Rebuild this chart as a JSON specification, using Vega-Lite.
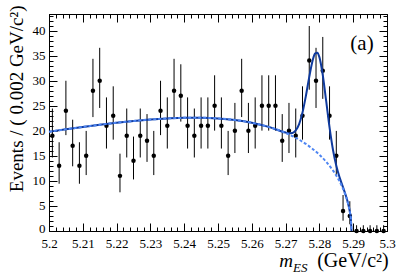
{
  "$schema": "https://vega.github.io/schema/vega-lite/v6.json",
  "width": 338,
  "height": 217,
  "autosize": {"type": "none"},
  "padding": {"left": 49, "top": 14, "right": 20, "bottom": 45},
  "background": "white",
  "config": {
    "view": {"stroke": "black", "strokeWidth": 1},
    "axis": {
      "grid": false,
      "labelFont": "Liberation Serif",
      "labelFontSize": 13,
      "labelColor": "black",
      "titleFont": "Liberation Serif",
      "titleFontSize": 19,
      "titleFontWeight": "normal",
      "titleColor": "black",
      "tickColor": "black",
      "domainColor": "black",
      "labelFlush": false,
      "labelOverlap": false
    },
    "text": {"font": "Liberation Serif", "color": "black"}
  },
  "datasets": {
    "hist": [
      {"m": 5.201, "n": 19, "lo": 14.67, "hi": 24.44},
      {"m": 5.203, "n": 13, "lo": 9.43, "hi": 17.71},
      {"m": 5.205, "n": 24, "lo": 19.13, "hi": 29.98},
      {"m": 5.207, "n": 17, "lo": 12.91, "hi": 22.21},
      {"m": 5.209, "n": 13, "lo": 9.43, "hi": 17.71},
      {"m": 5.211, "n": 15, "lo": 11.16, "hi": 19.97},
      {"m": 5.213, "n": 28, "lo": 22.73, "hi": 34.36},
      {"m": 5.215, "n": 30, "lo": 24.55, "hi": 36.55},
      {"m": 5.217, "n": 21, "lo": 16.45, "hi": 26.66},
      {"m": 5.219, "n": 23, "lo": 18.23, "hi": 28.87},
      {"m": 5.221, "n": 11, "lo": 7.72, "hi": 15.43},
      {"m": 5.223, "n": 19, "lo": 14.67, "hi": 24.44},
      {"m": 5.225, "n": 14, "lo": 10.29, "hi": 18.84},
      {"m": 5.227, "n": 19, "lo": 14.67, "hi": 24.44},
      {"m": 5.229, "n": 18, "lo": 13.79, "hi": 23.33},
      {"m": 5.231, "n": 15, "lo": 11.16, "hi": 19.97},
      {"m": 5.233, "n": 24, "lo": 19.13, "hi": 29.98},
      {"m": 5.235, "n": 21, "lo": 16.45, "hi": 26.66},
      {"m": 5.237, "n": 28, "lo": 22.73, "hi": 34.36},
      {"m": 5.239, "n": 27, "lo": 21.83, "hi": 33.27},
      {"m": 5.241, "n": 21, "lo": 16.45, "hi": 26.66},
      {"m": 5.243, "n": 19, "lo": 14.67, "hi": 24.44},
      {"m": 5.245, "n": 21, "lo": 16.45, "hi": 26.66},
      {"m": 5.247, "n": 21, "lo": 16.45, "hi": 26.66},
      {"m": 5.249, "n": 25, "lo": 20.03, "hi": 31.07},
      {"m": 5.251, "n": 21, "lo": 16.45, "hi": 26.66},
      {"m": 5.253, "n": 15, "lo": 11.16, "hi": 19.97},
      {"m": 5.255, "n": 20, "lo": 15.56, "hi": 25.56},
      {"m": 5.257, "n": 28, "lo": 22.73, "hi": 34.36},
      {"m": 5.259, "n": 20, "lo": 15.56, "hi": 25.56},
      {"m": 5.261, "n": 21, "lo": 16.45, "hi": 26.66},
      {"m": 5.263, "n": 25, "lo": 20.03, "hi": 31.07},
      {"m": 5.265, "n": 25, "lo": 20.03, "hi": 31.07},
      {"m": 5.267, "n": 25, "lo": 20.03, "hi": 31.07},
      {"m": 5.269, "n": 18, "lo": 13.79, "hi": 23.33},
      {"m": 5.271, "n": 20, "lo": 15.56, "hi": 25.56},
      {"m": 5.273, "n": 19, "lo": 14.67, "hi": 24.44},
      {"m": 5.275, "n": 23, "lo": 18.23, "hi": 28.87},
      {"m": 5.277, "n": 34, "lo": 28.19, "hi": 40.9},
      {"m": 5.279, "n": 30, "lo": 24.55, "hi": 36.55},
      {"m": 5.281, "n": 32, "lo": 26.37, "hi": 38.72},
      {"m": 5.283, "n": 23, "lo": 18.23, "hi": 28.87},
      {"m": 5.285, "n": 15, "lo": 11.16, "hi": 19.97},
      {"m": 5.287, "n": 4, "lo": 2.06, "hi": 7.18},
      {"m": 5.289, "n": 3, "lo": 1.34, "hi": 5.94},
      {"m": 5.291, "n": 0, "lo": 0, "hi": 1.15},
      {"m": 5.293, "n": 0, "lo": 0, "hi": 1.15},
      {"m": 5.295, "n": 0, "lo": 0, "hi": 1.15},
      {"m": 5.297, "n": 0, "lo": 0, "hi": 1.15},
      {"m": 5.299, "n": 0, "lo": 0, "hi": 1.15}
    ],
    "bg": [
      {"m": 5.2, "v": 19.8}, {"m": 5.205, "v": 20.29}, {"m": 5.21, "v": 20.76},
      {"m": 5.215, "v": 21.2}, {"m": 5.22, "v": 21.6}, {"m": 5.225, "v": 21.95},
      {"m": 5.23, "v": 22.24}, {"m": 5.235, "v": 22.45}, {"m": 5.24, "v": 22.58},
      {"m": 5.245, "v": 22.59}, {"m": 5.25, "v": 22.46}, {"m": 5.255, "v": 22.15},
      {"m": 5.26, "v": 21.61}, {"m": 5.265, "v": 20.78}, {"m": 5.27, "v": 19.57},
      {"m": 5.272, "v": 18.94}, {"m": 5.274, "v": 18.22}, {"m": 5.276, "v": 17.37},
      {"m": 5.278, "v": 16.38}, {"m": 5.28, "v": 15.22}, {"m": 5.282, "v": 13.82},
      {"m": 5.284, "v": 12.09}, {"m": 5.286, "v": 9.85}, {"m": 5.287, "v": 8.43},
      {"m": 5.288, "v": 6.6}, {"m": 5.2885, "v": 5.42}, {"m": 5.289, "v": 3.86},
      {"m": 5.2893, "v": 2.44}, {"m": 5.2895, "v": 0}
    ],
    "tot": [
      {"m": 5.2, "v": 19.8}, {"m": 5.205, "v": 20.29}, {"m": 5.21, "v": 20.76},
      {"m": 5.215, "v": 21.2}, {"m": 5.22, "v": 21.6}, {"m": 5.225, "v": 21.95},
      {"m": 5.23, "v": 22.24}, {"m": 5.235, "v": 22.45}, {"m": 5.24, "v": 22.58},
      {"m": 5.245, "v": 22.59}, {"m": 5.25, "v": 22.46}, {"m": 5.255, "v": 22.15},
      {"m": 5.26, "v": 21.61}, {"m": 5.265, "v": 20.78}, {"m": 5.27, "v": 19.64},
      {"m": 5.271, "v": 19.49}, {"m": 5.272, "v": 19.55}, {"m": 5.273, "v": 20.06},
      {"m": 5.274, "v": 21.33}, {"m": 5.275, "v": 23.63}, {"m": 5.276, "v": 26.94},
      {"m": 5.277, "v": 30.75}, {"m": 5.278, "v": 34.03}, {"m": 5.2787, "v": 35.4},
      {"m": 5.2794, "v": 35.58}, {"m": 5.28, "v": 34.69}, {"m": 5.281, "v": 31.1},
      {"m": 5.282, "v": 25.95}, {"m": 5.283, "v": 20.67}, {"m": 5.284, "v": 16.27},
      {"m": 5.285, "v": 13.02}, {"m": 5.286, "v": 10.65}, {"m": 5.287, "v": 8.71},
      {"m": 5.288, "v": 6.67}, {"m": 5.2885, "v": 5.45}, {"m": 5.289, "v": 3.88},
      {"m": 5.2893, "v": 2.45}, {"m": 5.2895, "v": 0}
    ]
  },
  "layer": [
    {
      "data": {"name": "hist"},
      "mark": {"type": "rule", "color": "black", "strokeWidth": 1},
      "encoding": {
        "x": {
          "field": "m", "type": "quantitative",
          "scale": {"domain": [5.2, 5.3], "nice": false, "zero": false},
          "axis": {
            "orient": "bottom", "title": null,
            "labelFont": "Liberation Serif", "labelFontSize": 13,
            "values": [5.2, 5.202, 5.204, 5.206, 5.208, 5.21, 5.212, 5.214, 5.216, 5.218, 5.22, 5.222, 5.224, 5.226, 5.228, 5.23, 5.232, 5.234, 5.236, 5.238, 5.24, 5.242, 5.244, 5.246, 5.248, 5.25, 5.252, 5.254, 5.256, 5.258, 5.26, 5.262, 5.264, 5.266, 5.268, 5.27, 5.272, 5.274, 5.276, 5.278, 5.28, 5.282, 5.284, 5.286, 5.288, 5.29, 5.292, 5.294, 5.296, 5.298, 5.3],
            "labelExpr": "abs(datum.value*100 - round(datum.value*100)) < 0.01 ? format(datum.value, '.3~f') : ''",
            "tickSize": {"condition": {"test": "abs(datum.value*100 - round(datum.value*100)) < 0.01", "value": -8}, "value": -4},
            "labelPadding": 14
          }
        },
        "y": {
          "field": "lo", "type": "quantitative",
          "scale": {"domain": [0, 43.3], "nice": false, "zero": false},
          "axis": {
            "orient": "left",
            "labelFont": "Liberation Serif", "labelFontSize": 13,
            "title": "Events / ( 0.002 GeV/c²)",
            "titleAnchor": "end", "titleAlign": "right", "titleAngle": 270,
            "titleBaseline": "alphabetic", "titleX": -27, "titleY": -9,
            "values": [0,1,2,3,4,5,6,7,8,9,10,11,12,13,14,15,16,17,18,19,20,21,22,23,24,25,26,27,28,29,30,31,32,33,34,35,36,37,38,39,40,41,42,43],
            "labelExpr": "datum.value % 5 == 0 ? datum.label : ''",
            "labelOffset": {"condition": {"test": "datum.value == 0", "value": -3}, "value": 0},
            "tickSize": {"condition": {"test": "datum.value % 5 == 0", "value": -8}, "value": -4},
            "labelPadding": 12
          }
        },
        "y2": {"field": "hi"}
      }
    },
    {
      "data": {"name": "hist"},
      "mark": {"type": "circle", "color": "black", "size": 20, "opacity": 1},
      "encoding": {
        "x": {
          "field": "m", "type": "quantitative",
          "scale": {"domain": [5.2, 5.3], "nice": false, "zero": false},
          "axis": {
            "orient": "top", "title": null, "labels": false,
            "values": [5.2, 5.202, 5.204, 5.206, 5.208, 5.21, 5.212, 5.214, 5.216, 5.218, 5.22, 5.222, 5.224, 5.226, 5.228, 5.23, 5.232, 5.234, 5.236, 5.238, 5.24, 5.242, 5.244, 5.246, 5.248, 5.25, 5.252, 5.254, 5.256, 5.258, 5.26, 5.262, 5.264, 5.266, 5.268, 5.27, 5.272, 5.274, 5.276, 5.278, 5.28, 5.282, 5.284, 5.286, 5.288, 5.29, 5.292, 5.294, 5.296, 5.298, 5.3],
            "tickSize": {"condition": {"test": "abs(datum.value*100 - round(datum.value*100)) < 0.01", "value": -8}, "value": -4}
          }
        },
        "y": {
          "field": "n", "type": "quantitative",
          "scale": {"domain": [0, 43.3], "nice": false, "zero": false},
          "axis": {
            "orient": "right", "title": null, "labels": false,
            "values": [0,1,2,3,4,5,6,7,8,9,10,11,12,13,14,15,16,17,18,19,20,21,22,23,24,25,26,27,28,29,30,31,32,33,34,35,36,37,38,39,40,41,42,43],
            "tickSize": {"condition": {"test": "datum.value % 5 == 0", "value": -8}, "value": -4}
          }
        }
      }
    },
    {
      "data": {"name": "tot"},
      "mark": {"type": "line", "color": "#0f3a9e", "strokeWidth": 2, "interpolate": "monotone"},
      "encoding": {
        "x": {"field": "m", "type": "quantitative", "scale": {"domain": [5.2, 5.3], "nice": false, "zero": false}, "axis": null},
        "y": {"field": "v", "type": "quantitative", "scale": {"domain": [0, 43.3], "nice": false, "zero": false}, "axis": null}
      }
    },
    {
      "data": {"name": "bg"},
      "mark": {"type": "line", "color": "#4f86f2", "strokeWidth": 2, "strokeDash": [3, 2], "interpolate": "monotone"},
      "encoding": {
        "x": {"field": "m", "type": "quantitative", "scale": {"domain": [5.2, 5.3], "nice": false, "zero": false}, "axis": null},
        "y": {"field": "v", "type": "quantitative", "scale": {"domain": [0, 43.3], "nice": false, "zero": false}, "axis": null}
      }
    },
    {
      "data": {"values": [{}]},
      "mark": {"type": "text", "fontSize": 21, "align": "center", "baseline": "alphabetic"},
      "encoding": {
        "x": {"datum": 5.2926, "type": "quantitative", "axis": null},
        "y": {"datum": 36.1, "type": "quantitative", "axis": null},
        "text": {"value": "(a)"}
      }
    },
    {
      "data": {"values": [{}]},
      "mark": {"type": "text", "fontSize": 19, "fontStyle": "italic", "align": "right", "baseline": "alphabetic"},
      "encoding": {
        "x": {"datum": 5.2722, "type": "quantitative", "axis": null},
        "y": {"datum": -7.2, "type": "quantitative", "axis": null},
        "text": {"value": "m"}
      }
    },
    {
      "data": {"values": [{}]},
      "mark": {"type": "text", "fontSize": 13, "fontStyle": "italic", "align": "left", "baseline": "alphabetic"},
      "encoding": {
        "x": {"datum": 5.2722, "type": "quantitative", "axis": null},
        "y": {"datum": -8.2, "type": "quantitative", "axis": null},
        "text": {"value": "ES"}
      }
    },
    {
      "data": {"values": [{}]},
      "mark": {"type": "text", "fontSize": 20, "align": "right", "baseline": "alphabetic"},
      "encoding": {
        "x": {"datum": 5.3005, "type": "quantitative", "axis": null},
        "y": {"datum": -7.2, "type": "quantitative", "axis": null},
        "text": {"value": "(GeV/c²)"}
      }
    }
  ],
  "resolve": {"axis": {"x": "independent", "y": "independent"}}
}
